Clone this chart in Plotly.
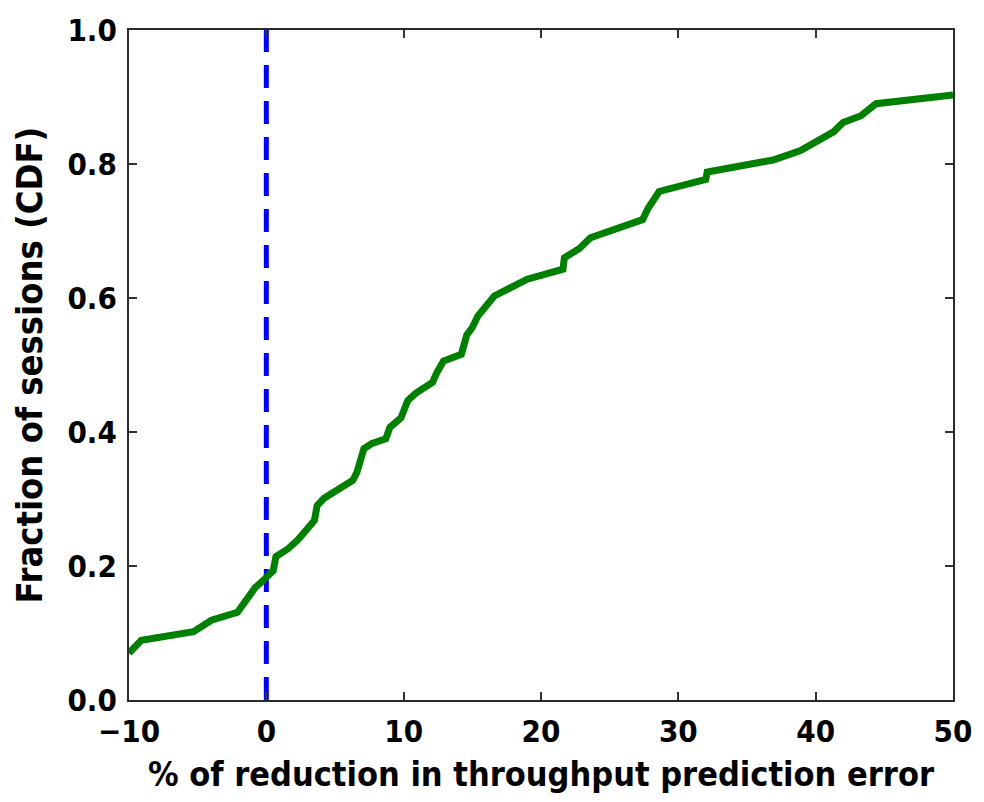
import plotly.graph_objects as go

# CDF of the per-session reduction in throughput prediction error (%)
reduction_pct = [-10.0, -9.1, -5.3, -4.0, -2.1, -1.6, -0.8, -0.1, 0.5, 0.7, 1.6, 2.3,
                 3.5, 3.7, 4.2, 6.3, 6.6, 7.1, 7.7, 8.7, 9.0, 9.8, 10.3, 10.9,
                 12.1, 12.4, 12.9, 14.2, 14.6, 15.0, 15.4, 16.6, 19.0, 21.6, 21.7,
                 22.8, 23.6, 27.4, 27.8, 28.6, 32.0, 32.1, 36.9, 38.9, 40.1, 41.3,
                 42.0, 43.3, 44.4, 50.0]
session_fraction = [0.070, 0.089, 0.102, 0.119, 0.131, 0.146, 0.168, 0.181, 0.193, 0.214, 0.226, 0.239,
                    0.268, 0.290, 0.301, 0.328, 0.340, 0.375, 0.383, 0.390, 0.407, 0.421, 0.447, 0.458,
                    0.474, 0.488, 0.506, 0.516, 0.545, 0.556, 0.573, 0.603, 0.628, 0.643, 0.660,
                    0.674, 0.690, 0.717, 0.734, 0.759, 0.777, 0.788, 0.806, 0.820, 0.833, 0.848,
                    0.862, 0.872, 0.890, 0.903]

x_ticks = [-10, 0, 10, 20, 30, 40, 50]
x_tick_text = ["\u221210", "0", "10", "20", "30", "40", "50"]
y_ticks = [0.0, 0.2, 0.4, 0.6, 0.8, 1.0]
y_tick_text = ["0.0", "0.2", "0.4", "0.6", "0.8", "1.0"]

font_family = "DejaVu Sans Condensed, DejaVu Sans"

fig = go.Figure()

# baseline: no reduction
fig.add_trace(go.Scatter(
    x=[0, 0], y=[0, 1], mode="lines",
    line=dict(color="#0000ff", width=5, dash="23px,13px"),
    hoverinfo="skip", showlegend=False,
))

fig.add_trace(go.Scatter(
    x=reduction_pct, y=session_fraction, mode="lines",
    line=dict(color="#008000", width=7),
    showlegend=False,
))

axis_common = dict(
    showline=True, linecolor="#2a2a2a", linewidth=2, mirror="ticks",
    ticks="inside", ticklen=8, tickwidth=1.5, tickcolor="#333333",
    showgrid=False, zeroline=False,
    tickfont=dict(family=font_family, size=31, color="black", weight="bold"),
)

fig.update_layout(
    width=984, height=802,
    margin=dict(l=129, r=21, t=28, b=102),
    paper_bgcolor="white", plot_bgcolor="white",
    font=dict(family=font_family, color="black"),
    xaxis=dict(
        range=[-10, 50], tickvals=x_ticks, ticktext=x_tick_text,
        ticklabelstandoff=3,
        title=dict(text="% of reduction in throughput prediction error",
                   font=dict(family=font_family, size=34, color="black", weight="bold"),
                   standoff=14),
        **axis_common,
    ),
    yaxis=dict(
        range=[0, 1], tickvals=y_ticks, ticktext=y_tick_text,
        ticklabelstandoff=4,
        title=dict(text="Fraction of sessions (CDF)",
                   font=dict(family=font_family, size=36, color="black", weight="bold"),
                   standoff=14),
        **axis_common,
    ),
)

fig.write_html("out.html")
